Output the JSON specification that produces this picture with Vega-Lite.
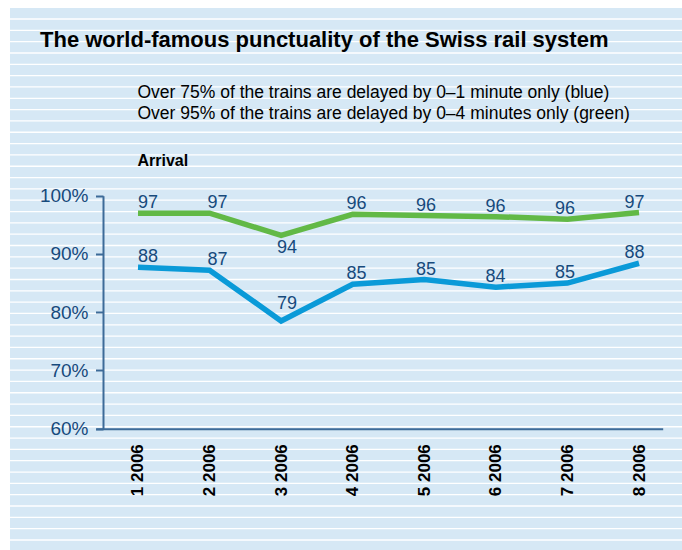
{
  "$schema": "https://vega.github.io/schema/vega-lite/v6.json",
  "width": 672,
  "height": 542,
  "padding": {"left": 10, "top": 8, "right": 0, "bottom": 0},
  "autosize": {"type": "none"},
  "background": "#ffffff",
  "config": {"view": {"fill": "#d6e8f5", "stroke": null}},
  "title": {
    "text": "The world-famous punctuality of the Swiss rail system",
    "anchor": "start",
    "frame": "group",
    "dx": 30,
    "offset": -44,
    "font": "Liberation Sans",
    "fontSize": 22,
    "fontWeight": "bold",
    "color": "#000000",
    "zindex": 1
  },
  "datasets": {
    "rail": [
      {"month": "1 2006", "series": "0–1 minute", "share": 87.7, "label": "88"},
      {"month": "2 2006", "series": "0–1 minute", "share": 87.2, "label": "87"},
      {"month": "3 2006", "series": "0–1 minute", "share": 78.5, "label": "79"},
      {"month": "4 2006", "series": "0–1 minute", "share": 84.8, "label": "85"},
      {"month": "5 2006", "series": "0–1 minute", "share": 85.6, "label": "85"},
      {"month": "6 2006", "series": "0–1 minute", "share": 84.3, "label": "84"},
      {"month": "7 2006", "series": "0–1 minute", "share": 85.0, "label": "85"},
      {"month": "8 2006", "series": "0–1 minute", "share": 88.4, "label": "88"},
      {"month": "1 2006", "series": "0–4 minutes", "share": 97.0, "label": "97"},
      {"month": "2 2006", "series": "0–4 minutes", "share": 97.0, "label": "97"},
      {"month": "3 2006", "series": "0–4 minutes", "share": 93.2, "label": "94"},
      {"month": "4 2006", "series": "0–4 minutes", "share": 96.8, "label": "96"},
      {"month": "5 2006", "series": "0–4 minutes", "share": 96.6, "label": "96"},
      {"month": "6 2006", "series": "0–4 minutes", "share": 96.4, "label": "96"},
      {"month": "7 2006", "series": "0–4 minutes", "share": 95.95, "label": "96"},
      {"month": "8 2006", "series": "0–4 minutes", "share": 97.1, "label": "97"}
    ],
    "stripes": [
      {"s": 1}, {"s": 2}, {"s": 3}, {"s": 4}, {"s": 5}, {"s": 6}, {"s": 7}, {"s": 8}, {"s": 9}, {"s": 10},
      {"s": 11}, {"s": 12}, {"s": 13}, {"s": 14}, {"s": 15}, {"s": 16}, {"s": 17}, {"s": 18}, {"s": 19}, {"s": 20},
      {"s": 21}, {"s": 22}, {"s": 23}, {"s": 24}, {"s": 25}, {"s": 26}, {"s": 27}, {"s": 28}, {"s": 29}, {"s": 30},
      {"s": 31}, {"s": 32}, {"s": 33}, {"s": 34}, {"s": 35}, {"s": 36}, {"s": 37}, {"s": 38}, {"s": 39}, {"s": 40},
      {"s": 41}, {"s": 42}, {"s": 43}, {"s": 44}, {"s": 45}, {"s": 46}, {"s": 47}
    ]
  },
  "layer": [
    {
      "data": {"name": "stripes"},
      "mark": {"type": "rule", "color": "#ffffff", "strokeWidth": 1.3},
      "encoding": {
        "y": {
          "field": "s",
          "type": "quantitative",
          "scale": {"domain": [0.116, 47.971], "nice": false, "zero": false},
          "axis": {
            "orient": "right",
            "domain": false,
            "ticks": false,
            "labels": false,
            "grid": false,
            "title": [
              "Over 75% of the trains are delayed by 0–1 minute only (blue)",
              "Over 95% of the trains are delayed by 0–4 minutes only (green)"
            ],
            "titleAngle": 0,
            "titleX": -545,
            "titleY": 89,
            "titleAlign": "left",
            "titleBaseline": "alphabetic",
            "titleFont": "Liberation Sans",
            "titleFontSize": 17.5,
            "titleFontWeight": "normal",
            "titleColor": "#000000",
            "titleLineHeight": 21,
            "zindex": 1
          }
        }
      }
    },
    {
      "data": {"name": "rail"},
      "mark": {"type": "line", "strokeWidth": 5.5},
      "encoding": {
        "x": {
          "field": "month",
          "type": "ordinal",
          "scale": {"type": "point", "range": [85.7, 652.7], "padding": 0.461, "align": 0.641},
          "axis": {
            "orient": "bottom",
            "offset": -121.3,
            "title": null,
            "grid": false,
            "domainColor": "#3d6b98",
            "domainWidth": 2,
            "ticks": false,
            "tickSize": 0,
            "labelPadding": 15,
            "labelAngle": -90,
            "labelFont": "Liberation Sans",
            "labelFontWeight": "bold",
            "labelFontSize": 17,
            "labelColor": "#000000",
            "zindex": 1
          }
        },
        "y": {
          "field": "share",
          "type": "quantitative",
          "scale": {"domain": [60, 100], "range": [420.7, 187.7], "nice": false, "zero": false},
          "axis": {
            "orient": "left",
            "offset": -93,
            "values": [60, 70, 80, 90, 100],
            "grid": false,
            "domainColor": "#3d6b98",
            "domainWidth": 2,
            "tickColor": "#3d6b98",
            "tickWidth": 2,
            "tickSize": 7.5,
            "labelPadding": 7.5,
            "labelExpr": "datum.value + '%'",
            "labelFont": "Liberation Sans",
            "labelFontSize": 19,
            "labelColor": "#174a7c",
            "title": "Arrival",
            "titleAngle": 0,
            "titleX": 34,
            "titleY": 157,
            "titleAlign": "left",
            "titleBaseline": "alphabetic",
            "titleFont": "Liberation Sans",
            "titleFontSize": 16,
            "titleFontWeight": "bold",
            "titleColor": "#000000",
            "zindex": 1
          }
        },
        "color": {
          "field": "series",
          "type": "nominal",
          "scale": {"domain": ["0–1 minute", "0–4 minutes"], "range": ["#0a9ad8", "#62b946"]},
          "legend": null
        }
      }
    },
    {
      "data": {"name": "rail"},
      "encoding": {
        "x": {"field": "month", "type": "ordinal", "scale": {"type": "point", "range": [138, 624.5], "padding": 0}, "axis": null},
        "y": {"field": "share", "type": "quantitative", "scale": {"domain": [60, 100], "range": [420.7, 187.7], "nice": false, "zero": false}, "axis": null},
        "text": {"field": "label"}
      },
      "layer": [
        {
          "transform": [{"filter": "datum.month != '3 2006'"}],
          "mark": {"type": "text", "dy": -5, "baseline": "alphabetic", "align": "center", "font": "Liberation Sans", "fontSize": 18, "color": "#174a7c"}
        },
        {
          "transform": [{"filter": "datum.month == '3 2006' && datum.series == '0–1 minute'"}],
          "mark": {"type": "text", "dy": -12, "baseline": "alphabetic", "align": "center", "font": "Liberation Sans", "fontSize": 18, "color": "#174a7c"}
        },
        {
          "transform": [{"filter": "datum.month == '3 2006' && datum.series == '0–4 minutes'"}],
          "mark": {"type": "text", "dy": 18, "baseline": "alphabetic", "align": "center", "font": "Liberation Sans", "fontSize": 18, "color": "#174a7c"}
        }
      ]
    }
  ],
  "resolve": {"scale": {"x": "independent", "y": "independent"}}
}
